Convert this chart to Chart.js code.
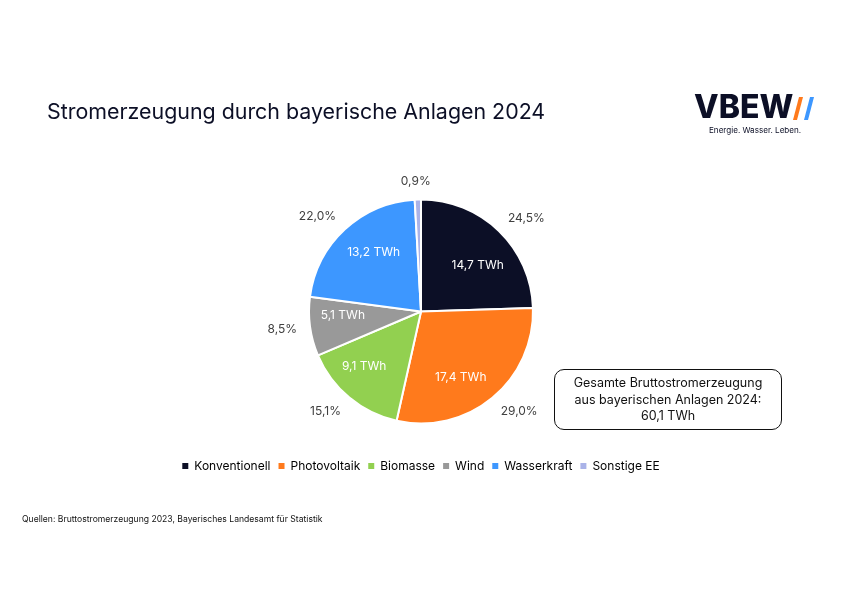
<!DOCTYPE html>
<html>
<head>
<meta charset="utf-8">
<script src="https://cdn.jsdelivr.net/npm/chart.js@4.4.0/dist/chart.umd.min.js"></script>
<style>
  html, body { margin: 0; padding: 0; background: #fff; }
  body { width: 842px; height: 595px; position: relative; overflow: hidden; font-family: Inter, "Noto Sans", sans-serif; }
  #title { position: absolute; left: 47px; top: 98px; font-size: 21.4px; color: #0c0f26; white-space: nowrap; }
  #logo { position: absolute; left: 694px; top: 89px; color: #0c0f26; }
  #logo .word { font-size: 32px; font-weight: 800; letter-spacing: 0px; line-height: 36px; }
  #logo .tag { position: absolute; left: 15px; top: 36px; font-size: 8.1px; white-space: nowrap; }
  #logo svg { position: absolute; left: 99px; top: 8px; }
  #note { position: absolute; left: 554px; top: 369px; width: 228px; height: 61px; border: 1.5px solid #111; border-radius: 10px;
          font-size: 12.5px; line-height: 16.5px; color: #111; text-align: center; box-sizing: border-box; padding-top: 5px; }
  #source { position: absolute; left: 22px; top: 514px; font-size: 8.6px; color: #111; white-space: nowrap; }
  #wrap { position: absolute; left: 0; top: 0; width: 842px; height: 595px; }
</style>
</head>
<body>
<div id="wrap"><canvas id="pie_chart" width="842" height="595"></canvas></div>
<div id="title">Stromerzeugung durch bayerische Anlagen 2024</div>
<div id="logo">
  <div class="word">VBEW</div>
  <svg width="24" height="24" viewBox="0 0 24 24">
    <polygon points="6,0 10,0 4,23 0,23" fill="#ff7a1c"/>
    <polygon points="17,0 21,0 15,23 11,23" fill="#3d97ff"/>
  </svg>
  <div class="tag">Energie. Wasser. Leben.</div>
</div>
<div id="note">Gesamte Bruttostromerzeugung<br>aus bayerischen Anlagen 2024:<br>60,1 TWh</div>
<div id="source">Quellen: Bruttostromerzeugung 2023, Bayerisches Landesamt für Statistik</div>
<script>
const categories = ['Konventionell', 'Photovoltaik', 'Biomasse', 'Wind', 'Wasserkraft', 'Sonstige EE'];
const twh = [14.7, 17.4, 9.1, 5.1, 13.2, 0.5];
const shares = [24.5, 29.0, 15.1, 8.5, 22.0, 0.9];

const colors = ['#0c0f26', '#ff7a1c', '#92d050', '#999999', '#3d97ff', '#aab3e8'];

const de = v => v.toFixed(1).replace('.', ',');

// TWh inside the slice, share outside
const sliceLabels = {
    id: 'sliceLabels',
    afterDatasetsDraw(chart) {
        const ctx = chart.ctx;
        const meta = chart.getDatasetMeta(0);
        ctx.save();
        ctx.font = '12px Inter, "Noto Sans", sans-serif';
        ctx.textAlign = 'center';
        ctx.textBaseline = 'middle';
        meta.data.forEach((arc, i) => {
            const p = arc.getProps(['x', 'y', 'startAngle', 'endAngle', 'outerRadius'], true);
            const mid = (p.startAngle + p.endAngle) / 2;
            const r = p.outerRadius;
            if (shares[i] > 2) {
                const a = mid + 0.11;
                ctx.fillStyle = '#ffffff';
                ctx.fillText(de(twh[i]) + ' TWh', p.x + Math.cos(a) * r * 0.68 - 2, p.y + Math.sin(a) * r * 0.68 + 2);
            }
            const txt = de(shares[i]) + '%';
            const hw = ctx.measureText(txt).width / 2;
            const dx = Math.cos(mid), dy = Math.sin(mid);
            ctx.fillStyle = '#404040';
            ctx.fillText(txt,
                p.x + dx * (r + 13) + Math.sign(dx) * hw * Math.min(1, Math.abs(dx) * 4),
                p.y + dy * (r + 13) + dy * 5);
        });
        ctx.restore();
    }
};

const ctx1 = document.getElementById('pie_chart');

const myChart1 = new Chart(ctx1, {
    type: 'pie',
    data: {
        labels: categories,
        datasets: [{
            data: shares,
            backgroundColor: colors,
            borderColor: '#ffffff',
            borderWidth: 2,
            radius: 112
        }]
    },
    options: {
        responsive: false,
        animation: false,
        radius: 112,
        layout: {
            padding: { top: 171, bottom: 113, left: 0, right: 0 }
        },
        plugins: {
            tooltip: { enabled: false },
            legend: {
                position: 'bottom',
                labels: {
                    boxWidth: 6,
                    boxHeight: 6,
                    padding: 8,
                    color: '#595959',
                    font: { family: 'Inter, "Noto Sans", sans-serif', size: 12 },
                    generateLabels: () => categories.map((c, i) => ({
                        text: c, fillStyle: colors[i], strokeStyle: colors[i], lineWidth: 0, hidden: false, index: i
                    }))
                }
            }
        }
    },
    plugins: [sliceLabels]
});
</script>
</body>
</html>
